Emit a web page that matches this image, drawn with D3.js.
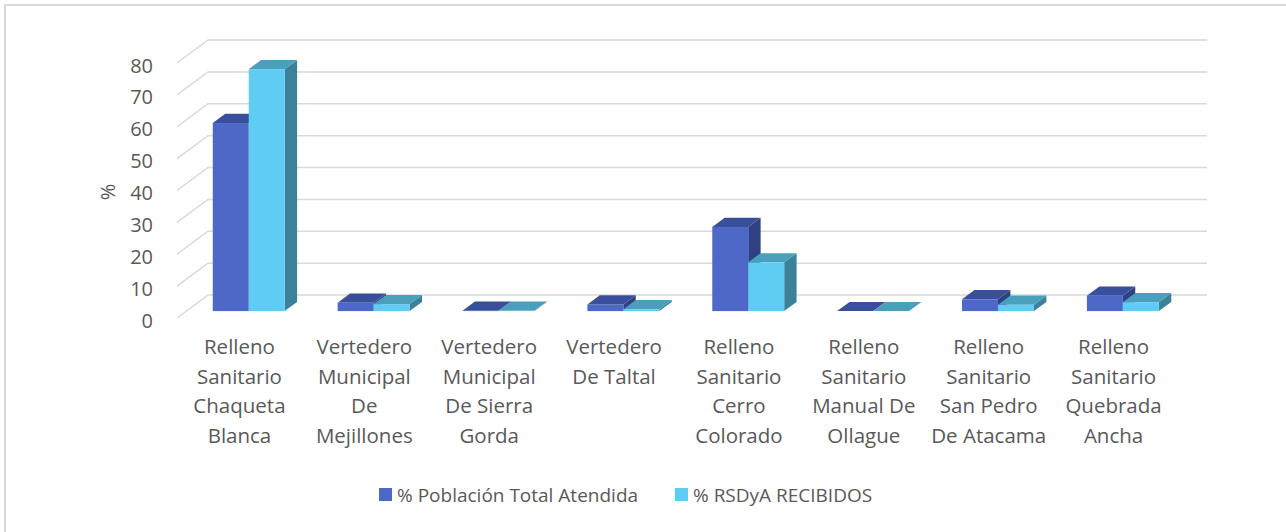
<!DOCTYPE html>
<html>
    <head>
        <meta charset="utf-8">
        <title>Rellenos sanitarios</title>
        <script src="https://d3js.org/d3.v7.min.js"></script>
        <style type="text/css">
            body { margin: 0; background: #fff; }
            text { font-family: "Open Sans", sans-serif; fill: #595959; }
            .grid { fill: none; stroke: #d9d9d9; stroke-width: 1.5; }
        </style>
    </head>
    <body>
        <script>
            var categories = [
                ["Relleno", "Sanitario", "Chaqueta", "Blanca"],
                ["Vertedero", "Municipal", "De", "Mejillones"],
                ["Vertedero", "Municipal", "De Sierra", "Gorda"],
                ["Vertedero", "De Taltal"],
                ["Relleno", "Sanitario", "Cerro", "Colorado"],
                ["Relleno", "Sanitario", "Manual De", "Ollague"],
                ["Relleno", "Sanitario", "San Pedro", "De Atacama"],
                ["Relleno", "Sanitario", "Quebrada", "Ancha"]
            ];
            var seriesNames = ["% Población Total Atendida", "% RSDyA RECIBIDOS"];
            var poblacion = [59, 2.6, 0.1, 2.1, 26.4, 0, 3.7, 4.8];
            var rsdya = [75.9, 2.2, 0.1, 0.6, 15.3, 0, 2.0, 2.8];
            var yTicks = [0, 10, 20, 30, 40, 50, 60, 70, 80];

            var colors = [
                {front: "#4e68c8", top: "#3a4f9b", side: "#2f4182"},
                {front: "#5fcdf3", top: "#4a9fbb", side: "#3a8199"}
            ];

            var svgWidth = 1286, svgHeight = 532;
            var depth = {dx: 31, dy: -23};
            var barT0 = 0.3, barT1 = 0.7;

            var svg = d3.select("body").append("svg")
                .attr("width", svgWidth)
                .attr("height", svgHeight);

            // chart frame (right and bottom run off the picture)
            svg.append("rect")
                .attr("x", 5).attr("y", 5)
                .attr("width", 1300).attr("height", 560)
                .attr("fill", "none")
                .attr("stroke", "#d9d9d9")
                .attr("stroke-width", 2);

            var keys = categories.map((d, i) => i);

            var x0 = d3.scaleBand()
                .domain(keys)
                .range([177, 1176])
                .paddingInner(0.424)
                .paddingOuter(0.212);

            var x1 = d3.scaleBand()
                .domain([0, 1])
                .range([0, x0.bandwidth()]);

            var y = d3.scaleLinear()
                .domain([0, 80])
                .range([318, 63]);

            // gridlines: diagonal on the floor/side, then along the back wall
            svg.append("g").selectAll("path")
                .data(yTicks).enter().append("path")
                .attr("class", "grid")
                .attr("d", d => "M" + x0.range()[0] + "," + y(d) +
                    "L" + (x0.range()[0] + depth.dx) + "," + (y(d) + depth.dy) +
                    "L" + (x0.range()[1] + depth.dx) + "," + (y(d) + depth.dy));

            // y tick labels
            svg.append("g").selectAll("text")
                .data(yTicks).enter().append("text")
                .attr("x", 153)
                .attr("y", d => y(d) + 2)
                .attr("text-anchor", "end")
                .attr("dominant-baseline", "central")
                .style("font-size", "20px")
                .text(d => d);

            svg.append("text")
                .attr("transform", "translate(107,192) rotate(-90)")
                .attr("text-anchor", "middle")
                .attr("dominant-baseline", "central")
                .style("font-size", "20px")
                .text("%");

            // 3d bars
            var bars = [];
            keys.forEach(function (k) {
                [poblacion, rsdya].forEach(function (vals, s) {
                    bars.push({k: k, s: s, v: vals[k]});
                });
            });

            var ox = depth.dx * barT0, oy = depth.dy * barT0;
            var bx = depth.dx * (barT1 - barT0), by = depth.dy * (barT1 - barT0);

            function pts(a) { return a.map(p => p.join(",")).join(" "); }

            var g = svg.append("g").selectAll("g")
                .data(bars).enter().append("g");

            g.each(function (d) {
                var el = d3.select(this);
                var xl = x0(d.k) + x1(d.s) + ox,
                    xr = xl + x1.bandwidth(),
                    yb = y(0) + oy,
                    yt = y(d.v) + oy;
                el.append("polygon")
                    .attr("points", pts([[xr, yb], [xr + bx, yb + by], [xr + bx, yt + by], [xr, yt]]))
                    .attr("fill", colors[d.s].side);
                el.append("polygon")
                    .attr("points", pts([[xl, yt], [xr, yt], [xr + bx, yt + by], [xl + bx, yt + by]]))
                    .attr("fill", colors[d.s].top);
                el.append("rect")
                    .attr("x", xl).attr("y", yt)
                    .attr("width", x1.bandwidth())
                    .attr("height", yb - yt)
                    .attr("fill", colors[d.s].front);
            });

            // category labels
            var labels = svg.append("g").selectAll("text")
                .data(categories).enter().append("text")
                .attr("text-anchor", "middle")
                .style("font-size", "20.5px");

            labels.selectAll("tspan")
                .data((d, i) => d.map(line => ({line: line, i: i})))
                .enter().append("tspan")
                .attr("x", d => x0(d.i) + x0.bandwidth() / 2)
                .attr("y", (d, j) => 354 + j * 29.5)
                .text(d => d.line);

            // legend
            var legendX = [379, 675];
            var legend = svg.append("g").selectAll("g")
                .data(seriesNames).enter().append("g")
                .attr("transform", (d, i) => "translate(" + legendX[i] + ",488)");

            legend.append("rect")
                .attr("width", 13).attr("height", 13)
                .attr("fill", (d, i) => colors[i].front);

            legend.append("text")
                .attr("x", 18).attr("y", 7)
                .attr("dominant-baseline", "central")
                .style("font-size", "19px")
                .text(d => d);
        </script>
    </body>
</html>
